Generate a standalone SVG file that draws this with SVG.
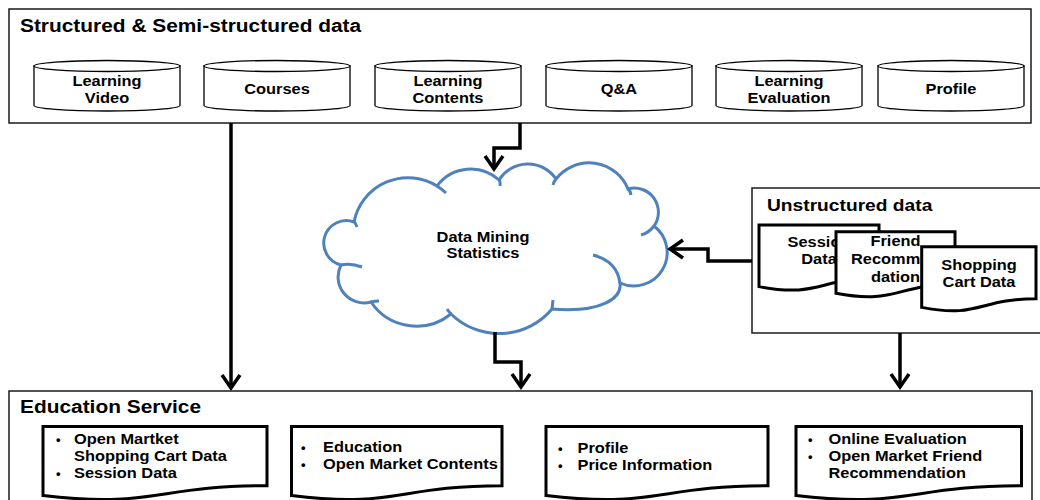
<svg xmlns="http://www.w3.org/2000/svg" width="1040" height="500" viewBox="0 0 1040 500">
  <style>
    .box { fill: #fff; stroke: #1a1a1a; stroke-width: 1.5; }
    .cyl { fill: #fff; stroke: #000; stroke-width: 1.3; }
    .doc { fill: #fff; stroke: #000; stroke-width: 3; }
    .cloud { fill: #fff; stroke: #4f81bd; stroke-width: 3; }
    .cloud-inner { fill: none; stroke: #4f81bd; stroke-width: 3; }
    .link { fill: none; stroke: #000; stroke-width: 3.5; }
    .t { font-family: "Liberation Sans", Arial, sans-serif; font-weight: bold; font-size: 14.5px; fill: #000; }
    .title { font-size: 18.5px; }
    .bul { font-size: 13px; }
    .c { text-anchor: middle; }
    /* slightly widened lettering */
    .sx { transform-box: fill-box; transform-origin: 50% 50%; transform: scaleX(1.13); }
    .sxl { transform-box: fill-box; transform-origin: 0% 50%; transform: scaleX(1.13); }
  </style>
  <defs>
    <marker id="chev" markerUnits="userSpaceOnUse" viewBox="-20 -15 30 30" markerWidth="30" markerHeight="30" refX="0" refY="0" orient="auto" overflow="visible">
      <path d="M-13,-9 L0,0 L-13,9" fill="none" stroke="#000" stroke-width="3.5"/>
    </marker>
  </defs>

  <!-- Structured & semi-structured sources -->
  <g id="structured">
    <rect class="box" x="9" y="9" width="1022" height="114"/>
    <text class="t title sxl" x="20" y="32">Structured &amp; Semi-structured data</text>
  </g>
  <g id="cyl-learning-video">
    <path class="cyl" d="M34 66 V105.5 A73 5.5 0 0 0 180 105.5 V66 Z"/>
    <ellipse class="cyl" cx="107" cy="66" rx="73" ry="5.5"/>
    <text class="t c sx" x="107" y="86">Learning<tspan x="107" dy="17">Video</tspan></text>
  </g>
  <g id="cyl-courses">
    <path class="cyl" d="M204 66 V105.5 A73 5.5 0 0 0 350 105.5 V66 Z"/>
    <ellipse class="cyl" cx="277" cy="66" rx="73" ry="5.5"/>
    <text class="t c sx" x="277" y="94">Courses</text>
  </g>
  <g id="cyl-learning-contents">
    <path class="cyl" d="M375 66 V105.5 A73 5.5 0 0 0 521 105.5 V66 Z"/>
    <ellipse class="cyl" cx="448" cy="66" rx="73" ry="5.5"/>
    <text class="t c sx" x="448" y="86">Learning<tspan x="448" dy="17">Contents</tspan></text>
  </g>
  <g id="cyl-qa">
    <path class="cyl" d="M546 66 V105.5 A73 5.5 0 0 0 692 105.5 V66 Z"/>
    <ellipse class="cyl" cx="619" cy="66" rx="73" ry="5.5"/>
    <text class="t c sx" x="619" y="94">Q&amp;A</text>
  </g>
  <g id="cyl-learning-evaluation">
    <path class="cyl" d="M716 66 V105.5 A73 5.5 0 0 0 862 105.5 V66 Z"/>
    <ellipse class="cyl" cx="789" cy="66" rx="73" ry="5.5"/>
    <text class="t c sx" x="789" y="86">Learning<tspan x="789" dy="17">Evaluation</tspan></text>
  </g>
  <g id="cyl-profile">
    <path class="cyl" d="M878 66 V105.5 A73 5.5 0 0 0 1024 105.5 V66 Z"/>
    <ellipse class="cyl" cx="951" cy="66" rx="73" ry="5.5"/>
    <text class="t c sx" x="951" y="94">Profile</text>
  </g>

  <!-- Analysis cloud -->
  <g id="data-mining">
    <path class="cloud" d="M354 222 A55 55 0 0 1 437 186 A42 42 0 0 1 499 180 A34 34 0 0 1 556 179 A42 42 0 0 1 628 189 A24 24 0 0 1 654 226 A33.4 33.4 0 0 1 620 283 C622 298 602 313 552 309 A69 69 0 0 1 451 314 A55 55 0 0 1 371 302 A26 26 0 0 1 341 265 A22.5 22.5 0 1 1 354 222 Z"/>
    <path class="cloud-inner" d="M437 186 A55 55 0 0 1 446 193 M499 179 Q500.5 182 500 186 M556 179 Q554 181 553 185 M628 189 Q630.5 191 631 195 M654 226 A24 24 0 0 1 641 235 M593 255 Q617 261 620 283 M553 300 Q552.5 305 552 309 M447 309 Q449 312 451 314 M371 302 Q375 301 379 301 M341 265 Q351 263 362 267 M354 221 Q356 224 357 227"/>
    <text class="t c sx" x="483" y="242.5">Data Mining<tspan x="483" dy="16">Statistics</tspan></text>
  </g>

  <!-- Unstructured sources -->
  <g id="unstructured">
    <rect class="box" x="752" y="188" width="300" height="145"/>
    <text class="t sxl" x="767" y="211" style="font-size:17px">Unstructured data</text>
  </g>
  <g id="doc-session">
    <path class="doc" d="M759 225 H879 V277.8 C819 277.8 819 298.1 759 286.6 Z"/>
    <text class="t c sx" x="819" y="247">Session<tspan x="819" dy="17.5">Data</tspan></text>
  </g>
  <g id="doc-friend">
    <path class="doc" d="M836 231.7 H955 V284.5 C895.5 284.5 895.5 304.8 836 293.3 Z"/>
    <text class="t c sx" x="895.5" y="246">Friend</text>
    <text class="t sxl" x="851" y="264">Recomm</text>
    <text class="t c sx" x="895.5" y="282">dation</text>
  </g>
  <g id="doc-shopping">
    <path class="doc" d="M921.7 246.7 H1036 V298.7 C978.9 298.7 978.9 318.7 921.7 307.4 Z"/>
    <text class="t c sx" x="979" y="270">Shopping<tspan x="979" dy="17">Cart Data</tspan></text>
  </g>

  <!-- Education service outputs -->
  <g id="education">
    <rect class="box" x="9" y="391" width="1023" height="130"/>
    <text class="t title sxl" x="20" y="413">Education Service</text>
  </g>
  <g id="svc-market">
    <path class="doc" d="M43 426.5 H267 V485.7 C155 485.7 155 508.5 43 495.6 Z"/>
    <text class="t bul" x="56" y="444">•</text>
    <text class="t bul" x="56" y="478">•</text>
    <text class="t sxl" x="74" y="444.5">Open Martket<tspan x="74" dy="17">Shopping Cart Data</tspan><tspan x="74" dy="17">Session Data</tspan></text>
  </g>
  <g id="svc-education">
    <path class="doc" d="M291.5 426.5 H502 V485.7 C396.8 485.7 396.8 508.5 291.5 495.6 Z"/>
    <text class="t bul" x="301" y="451.5">•</text>
    <text class="t bul" x="301" y="468.5">•</text>
    <text class="t sxl" x="323" y="452">Education<tspan x="323" dy="17">Open Market Contents</tspan></text>
  </g>
  <g id="svc-profile">
    <path class="doc" d="M546 426.5 H768 V485.7 C657 485.7 657 508.5 546 495.6 Z"/>
    <text class="t bul" x="558" y="452.5">•</text>
    <text class="t bul" x="558" y="469.5">•</text>
    <text class="t sxl" x="577.5" y="453">Profile<tspan x="577.5" dy="17">Price Information</tspan></text>
  </g>
  <g id="svc-evaluation">
    <path class="doc" d="M796 426.5 H1021.5 V485.7 C908.8 485.7 908.8 508.5 796 495.6 Z"/>
    <text class="t bul" x="808" y="444">•</text>
    <text class="t bul" x="808" y="461">•</text>
    <text class="t sxl" x="828.5" y="444.5">Online Evaluation<tspan x="828.5" dy="17">Open Market Friend</tspan><tspan x="828.5" dy="17">Recommendation</tspan></text>
  </g>

  <!-- Data flows -->
  <g id="connectors" class="link">
    <path d="M231 123 V388" marker-end="url(#chev)"/>
    <path d="M520 123 V148 H494 V169" marker-end="url(#chev)"/>
    <path d="M752 261 H708 V249 H670" marker-end="url(#chev)"/>
    <path d="M495 332 V362 H521 V387" marker-end="url(#chev)"/>
    <path d="M900 333 V387" marker-end="url(#chev)"/>
  </g>
</svg>
